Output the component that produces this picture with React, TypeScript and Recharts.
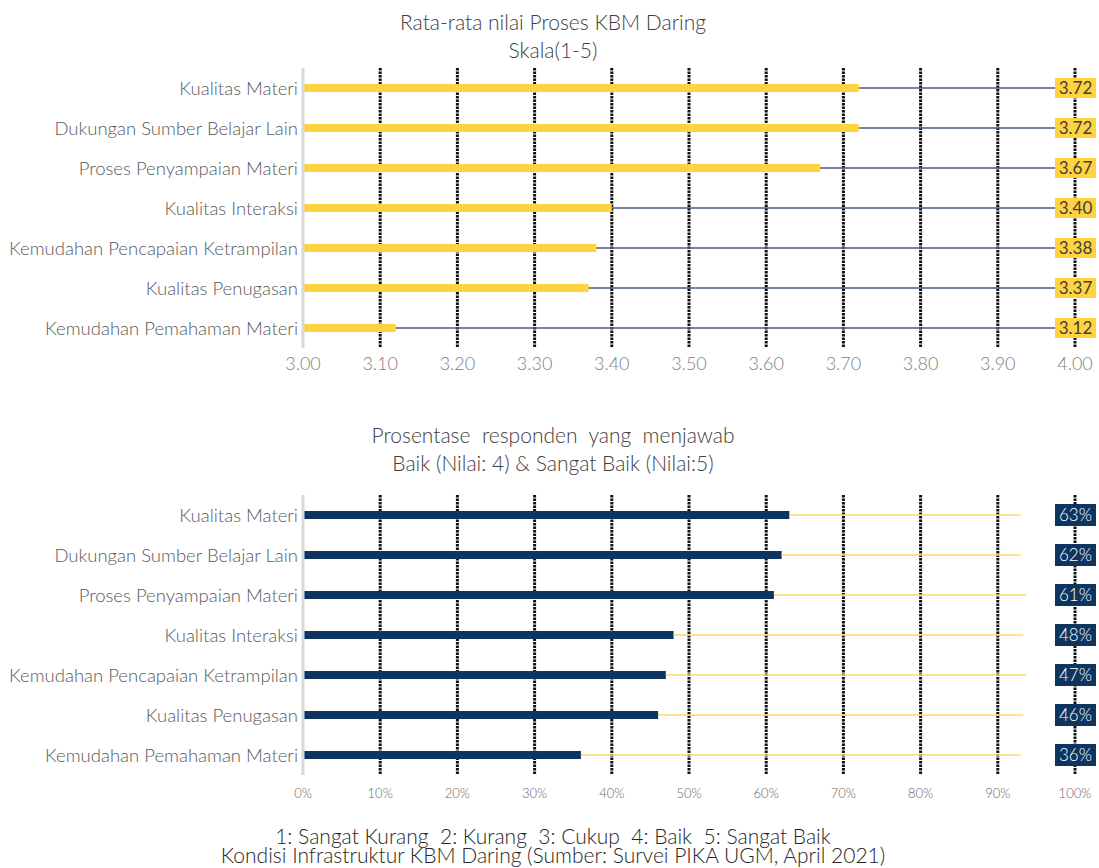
import React from 'react';
import { BarChart, Bar, XAxis, YAxis, CartesianGrid } from 'recharts';

const categories = [
  'Kualitas Materi',
  'Dukungan Sumber Belajar Lain',
  'Proses Penyampaian Materi',
  'Kualitas Interaksi',
  'Kemudahan Pencapaian Ketrampilan',
  'Kualitas Penugasan',
  'Kemudahan Pemahaman Materi',
];
const avgScores = [3.72, 3.72, 3.67, 3.4, 3.38, 3.37, 3.12];
const goodPct = [63, 62, 61, 48, 47, 46, 36];
const goodLineEnd = [93, 93, 93.7, 93.3, 93.7, 93.3, 93];
const scoreTicks = [3.0, 3.1, 3.2, 3.3, 3.4, 3.5, 3.6, 3.7, 3.8, 3.9, 4.0];
const pctTicks = [0, 10, 20, 30, 40, 50, 60, 70, 80, 90, 100];

const scoreData = categories.map((name, i) => ({ name, score: avgScores[i] }));
const pctData = categories.map((name, i) => ({
  name,
  pct: goodPct[i],
  rest: goodLineEnd[i] - goodPct[i],
}));

const FONT = 'Lato, "Open Sans", sans-serif';
const YELLOW = '#FFD23F';
const NAVY = '#0D3560';

// full-width background: thin line to 4.00 plus the value box at the right edge
const scoreBackground = (p: any) => {
  const cy = p.y + p.height / 2;
  const right = p.x + p.width;
  return (
    <g>
      <rect x={p.x} y={cy - 0.75} width={p.width} height={1.5} fill="#4B5E7C" />
      <rect x={right - 20} y={cy - 10} width={41} height={20} fill={YELLOW} />
      <text x={right + 0.5} y={cy + 6} textAnchor="middle" fontSize={17} fill="#404040" fontFamily={FONT}>
        {p.payload.score.toFixed(2)}
      </text>
    </g>
  );
};

const pctBackground = (p: any) => {
  const cy = p.y + p.height / 2;
  const right = p.x + p.width;
  return (
    <g>
      <rect x={right - 20} y={cy - 11} width={41} height={22} fill={NAVY} />
      <text x={right + 0.5} y={cy + 6} textAnchor="middle" fontSize={17} fontWeight={300} fill="#ffffff" fontFamily={FONT}>
        {`${p.payload.pct}%`}
      </text>
    </g>
  );
};

const thinLine = (p: any) => (
  <rect x={p.x} y={p.y + p.height / 2 - 0.75} width={Math.max(p.width, 0)} height={1.5} fill="#FFD966" />
);

const titleStyle: React.CSSProperties = {
  position: 'absolute',
  left: 0,
  width: 1106,
  textAlign: 'center',
  fontFamily: FONT,
  fontWeight: 300,
  fontSize: 21,
  color: '#404040',
  lineHeight: '28px',
};

const catTick = { fontSize: 18.5, fontWeight: 300, fill: '#595959', fontFamily: FONT };

export default function App() {
  return (
    <div style={{ position: 'absolute', left: 0, top: 0, width: 1099, height: 868, background: '#fff', overflow: 'hidden' }}>
      <div style={{ ...titleStyle, top: 8 }}>
        Rata-rata nilai Proses KBM Daring
        <br />
        Skala(1-5)
      </div>
      <div style={{ position: 'absolute', left: 0, top: 0 }}>
        <BarChart width={1099} height={380} data={scoreData} layout="vertical" margin={{ top: 68, right: 24, left: 0, bottom: 0 }}>
          <CartesianGrid horizontal={false} verticalValues={scoreTicks.slice(1)} stroke="#111" strokeWidth={3} strokeDasharray="2.5 1" />
          <XAxis
            type="number"
            domain={[3, 4]}
            ticks={scoreTicks}
            tickFormatter={(v: number) => v.toFixed(2)}
            axisLine={false}
            tickLine={false}
            tickMargin={3}
            height={32}
            tick={{ fontSize: 18, fontWeight: 300, fill: '#808080', fontFamily: FONT }}
          />
          <YAxis
            type="category"
            dataKey="name"
            width={303}
            axisLine={{ stroke: '#D9D9D9', strokeWidth: 3 }}
            tickLine={false}
            tickSize={0}
            tickMargin={5}
            tick={catTick}
          />
          <Bar dataKey="score" fill={YELLOW} barSize={8} background={scoreBackground} isAnimationActive={false} />
        </BarChart>
      </div>

      <div style={{ ...titleStyle, top: 421 }}>
        Prosentase&nbsp; responden&nbsp; yang&nbsp; menjawab
        <br />
        Baik (Nilai: 4) &amp; Sangat Baik (Nilai:5)
      </div>
      <div style={{ position: 'absolute', left: 0, top: 420 }}>
        <BarChart width={1099} height={390} data={pctData} layout="vertical" margin={{ top: 75, right: 24, left: 0, bottom: 0 }}>
          <CartesianGrid horizontal={false} verticalValues={pctTicks.slice(1)} stroke="#111" strokeWidth={3} strokeDasharray="2.5 1" />
          <XAxis
            type="number"
            domain={[0, 100]}
            ticks={pctTicks}
            tickFormatter={(v: number) => `${v}%`}
            axisLine={false}
            tickLine={false}
            tickMargin={8}
            height={35}
            tick={{ fontSize: 13, fontWeight: 300, fill: '#666666', fontFamily: FONT }}
          />
          <YAxis
            type="category"
            dataKey="name"
            width={303}
            axisLine={{ stroke: '#D9D9D9', strokeWidth: 3 }}
            tickLine={false}
            tickSize={0}
            tickMargin={5}
            tick={catTick}
          />
          <Bar dataKey="pct" stackId="a" fill={NAVY} barSize={8} background={pctBackground} isAnimationActive={false} />
          <Bar dataKey="rest" stackId="a" fill="#FFD966" barSize={8} shape={thinLine} isAnimationActive={false} />
        </BarChart>
      </div>

      <div
        style={{
          position: 'absolute',
          left: 0,
          width: 1106,
          top: 826,
          textAlign: 'center',
          fontFamily: FONT,
          fontWeight: 300,
          fontSize: 21,
          color: '#262626',
          lineHeight: '19px',
          whiteSpace: 'pre',
        }}
      >
        {'1: Sangat Kurang  2: Kurang  3: Cukup  4: Baik  5: Sangat Baik'}
        <br />
        {'Kondisi Infrastruktur KBM Daring (Sumber: Survei PIKA UGM, April 2021)'}
      </div>
    </div>
  );
}
